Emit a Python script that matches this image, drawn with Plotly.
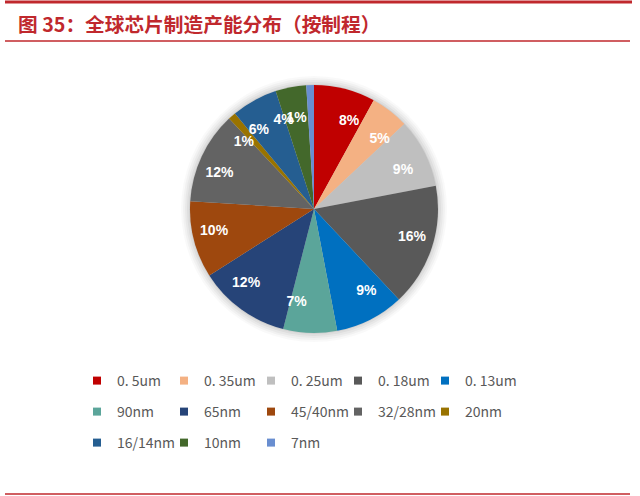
import plotly.graph_objects as go

title = "图 35：全球芯片制造产能分布（按制程）"
labels = ["0. 5um", "0. 35um", "0. 25um", "0. 18um", "0. 13um",
          "90nm", "65nm", "45/40nm", "32/28nm", "20nm",
          "16/14nm", "10nm", "7nm"]
values = [8, 5, 9, 16, 9, 7, 12, 10, 12, 1, 6, 4, 1]
colors = ["#C00000", "#F4B183", "#BFBFBF", "#595959", "#0070C0",
          "#5BA59A", "#264478", "#9E480E", "#636363", "#997300",
          "#255E91", "#43682B", "#698ED0"]
legend_rows = [0, 0, 0, 0, 0, 1, 1, 1, 1, 1, 2, 2, 2]

W, H = 640, 496
CX, CY, R = 314, 209, 124   # pie centre / radius in px
RL = 84                     # radius of the invisible label ring


def dom(r):
    return dict(x=[(CX - r) / W, (CX + r) / W], y=[1 - (CY + r) / H, 1 - (CY - r) / H])


fig = go.Figure()

# soft shadow halo
for k, a in [(9, 0.025), (7, 0.03), (5, 0.035), (3, 0.045), (1, 0.06)]:
    fig.add_trace(go.Pie(values=[sum(values)], labels=[""], sort=False,
                         marker=dict(colors=[f"rgba(0,0,0,{a})"], line=dict(width=0)),
                         textinfo="none", hoverinfo="skip", showlegend=False,
                         domain=dom(R + k)))

fig.add_trace(go.Pie(
    labels=labels, values=values, sort=False, direction="clockwise", rotation=0,
    marker=dict(colors=colors, line=dict(width=0)),
    textinfo="none", showlegend=False, hoverinfo="label+value",
    domain=dom(R),
))

# percentage labels on transparent rings (neighbouring labels kept in separate rings)
n = len(values)
groups = [i % 2 if i < n - 1 else 2 for i in range(n)]
for part in (0, 1, 2):
    txt = [f"{v}%" if g == part else "" for g, v in zip(groups, values)]
    fig.add_trace(go.Pie(
        labels=labels, values=values, sort=False, direction="clockwise", rotation=0,
        marker=dict(colors=["rgba(0,0,0,0)"] * n, line=dict(width=0)),
        text=txt, textinfo="text", textposition="outside",
        outsidetextfont=dict(family="Liberation Sans, Arial", size=14, color="white", weight="bold"),
        showlegend=False, hoverinfo="skip",
        domain=dom(RL),
    ))

legend_names = ["legend", "legend2", "legend3"]
for lab, col, row in zip(labels, colors, legend_rows):
    fig.add_trace(go.Scatter(
        x=[None], y=[None], mode="markers", name=lab,
        marker=dict(symbol="square", size=8, color=col),
        legend=legend_names[row], showlegend=True, hoverinfo="skip",
    ))
# invisible spacer entry so the last entry of the first row is not clipped
fig.add_trace(go.Scatter(x=[None], y=[None], mode="markers", name=" ",
                         marker=dict(symbol="square", size=8, color="rgba(0,0,0,0)"),
                         legend="legend", showlegend=True, hoverinfo="skip"))

row_y = [381, 412, 443]
common = dict(orientation="h", xanchor="left", yanchor="middle", x=77 / W,
              font=dict(family="Noto Sans CJK SC", size=14, color="#595959"),
              bgcolor="rgba(0,0,0,0)", entrywidth=42, entrywidthmode="pixels",
              itemwidth=30, tracegroupgap=0)
layout_legends = {}
for i, nm in enumerate(legend_names):
    layout_legends[nm] = dict(common, y=1 - row_y[i] / H)

red = "#C0282D"
fig.update_layout(
    width=W, height=H, margin=dict(l=0, r=0, t=0, b=0),
    paper_bgcolor="white", plot_bgcolor="white",
    xaxis=dict(visible=False), yaxis=dict(visible=False),
    title=dict(text=title, x=18 / W, xanchor="left", y=1 - 25 / H, yanchor="middle",
               xref="paper", yref="paper",
               font=dict(family="Noto Sans CJK SC", size=19.7, color=red, weight="bold")),
    shapes=[
        dict(type="line", xref="paper", yref="paper", x0=5 / W, x1=632 / W,
             y0=1 - 2 / H, y1=1 - 2 / H, line=dict(color=red, width=3)),
        dict(type="line", xref="paper", yref="paper", x0=5 / W, x1=630 / W,
             y0=1 - 41 / H, y1=1 - 41 / H, line=dict(color=red, width=1.5)),
        dict(type="line", xref="paper", yref="paper", x0=5 / W, x1=630 / W,
             y0=1 - 494 / H, y1=1 - 494 / H, line=dict(color=red, width=1.5)),
    ],
    **layout_legends,
)

fig.write_html("out.html", config={"displayModeBar": False},
               post_script="document.body.style.margin='0';")
